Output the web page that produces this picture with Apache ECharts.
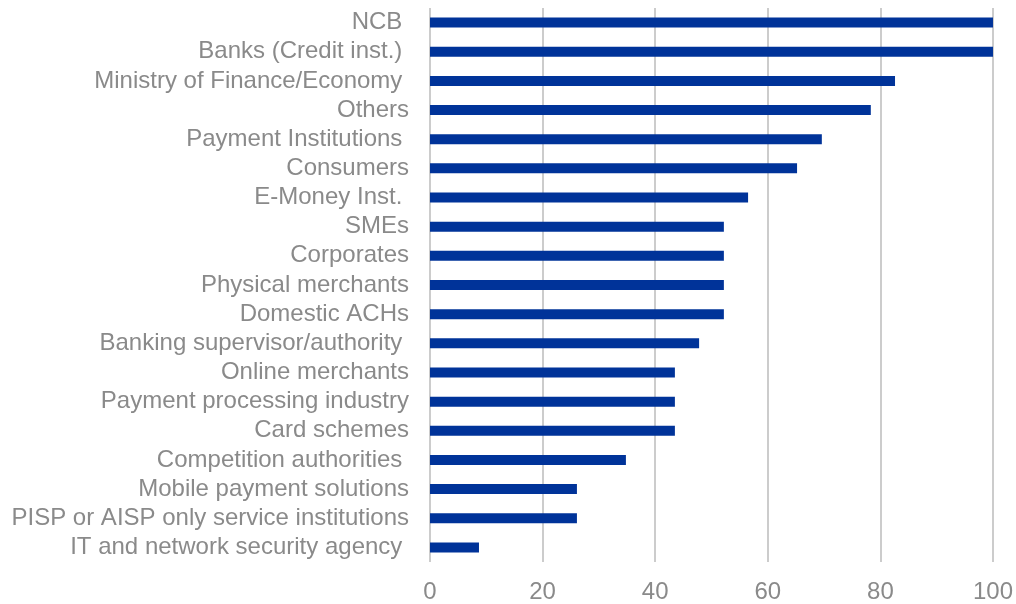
<!DOCTYPE html>
<html>
<head>
<meta charset="utf-8">
<script src="https://cdn.jsdelivr.net/npm/echarts@6/dist/echarts.min.js"></script>
<style>
html,body{margin:0;padding:0;background:#fff;}
#chart{width:1016px;height:604px;}
</style>
</head>
<body>
<div id="chart"></div>
<script>
const categories = [
  "NCB ",
  "Banks (Credit inst.) ",
  "Ministry of Finance/Economy ",
  "Others",
  "Payment Institutions ",
  "Consumers",
  "E-Money Inst. ",
  "SMEs",
  "Corporates",
  "Physical merchants",
  "Domestic ACHs",
  "Banking supervisor/authority ",
  "Online merchants",
  "Payment processing industry",
  "Card schemes",
  "Competition authorities ",
  "Mobile payment solutions",
  "PISP or AISP only service institutions",
  "IT and network security agency "
];
const values = [100, 100, 82.6, 78.3, 69.6, 65.2, 56.5, 52.2, 52.2, 52.2, 52.2, 47.8, 43.5, 43.5, 43.5, 34.8, 26.1, 26.1, 8.7];
const xTicks = [0, 20, 40, 60, 80, 100];

const FONT = "'Liberation Sans', Arial, sans-serif";
const chart = echarts.init(document.getElementById('chart'));
chart.setOption({
  animation: false,
  textStyle: {fontFamily: FONT},
  grid: {left: 430, right: 23, top: 8, bottom: 38, containLabel: false},
  xAxis: {
    type: 'value', min: xTicks[0], max: xTicks[xTicks.length - 1], interval: 20,
    axisLine: {show: false}, axisTick: {show: false},
    splitLine: {show: true, lineStyle: {color: '#cccccc', width: 2}},
    axisLabel: {color: '#8a8a8a', fontSize: 24, fontFamily: FONT, margin: 18}
  },
  yAxis: {
    type: 'category', data: categories, inverse: true,
    axisLine: {show: false}, axisTick: {show: false}, splitLine: {show: false},
    axisLabel: {color: '#8a8a8a', fontSize: 24, fontFamily: FONT, margin: 21, interval: 0}
  },
  series: [{
    type: 'bar', data: values, barWidth: 10,
    itemStyle: {color: '#003399'}
  }]
});
</script>
</body>
</html>
